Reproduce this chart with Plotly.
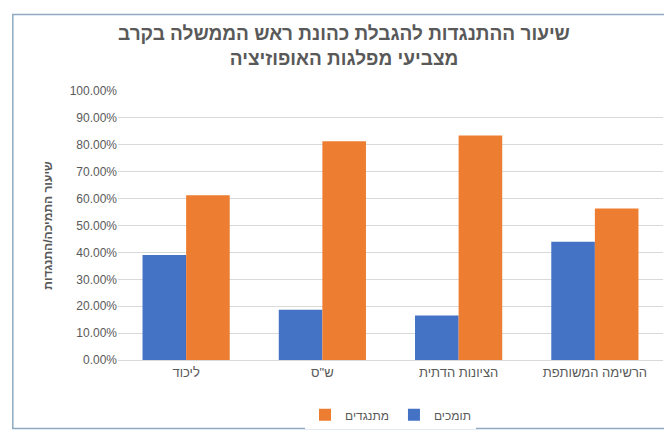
import plotly.graph_objects as go

parties = ["ליכוד", 'ש"ס', "הציונות הדתית", "הרשימה המשותפת"]
support = [0.39, 0.187, 0.165, 0.44]
oppose = [0.612, 0.813, 0.835, 0.563]

fig = go.Figure()
fig.add_bar(x=parties, y=support, name="תומכים",
            marker=dict(color="#4472C4", line=dict(width=0)))
fig.add_bar(x=parties, y=oppose, name="מתנגדים",
            marker=dict(color="#ED7D31", line=dict(width=0)))

fig.update_layout(
    width=672, height=433,
    font=dict(family="Liberation Sans, Arial", color="#595959", size=12),
    title=dict(text="<b>שיעור ההתנגדות להגבלת כהונת ראש הממשלה בקרב<br>מצביעי מפלגות האופוזיציה</b>",
               x=0.5, y=0.925, yref="container", xanchor="center", yanchor="middle",
               font=dict(size=19, color="#595959")),
    barmode="group", bargap=0.36, bargroupgap=0.0,
    plot_bgcolor="white", paper_bgcolor="white",
    margin=dict(l=110, r=17, t=83, b=75),
    legend=dict(orientation="h", x=0.5, xanchor="center", y=-0.15, yanchor="top",
                traceorder="reversed", font=dict(size=12)),
    yaxis=dict(range=[0, 1.0], dtick=0.1, tickformat=".2%", gridcolor="#D9D9D9",
               zeroline=False, showline=False, ticks="",
               title=dict(text="<b>שיעור התמיכה/התנגדות</b>", font=dict(size=12), standoff=14)),
    xaxis=dict(showline=True, linecolor="#D9D9D9", ticks="", tickfont=dict(size=13)),
    shapes=[dict(type="rect", xref="paper", yref="paper", x0=-0.193, x1=1.022, y0=-0.255, y1=1.284,
                 line=dict(color="#8EA9C1", width=1.5))],
)

fig.write_html("out.html")
